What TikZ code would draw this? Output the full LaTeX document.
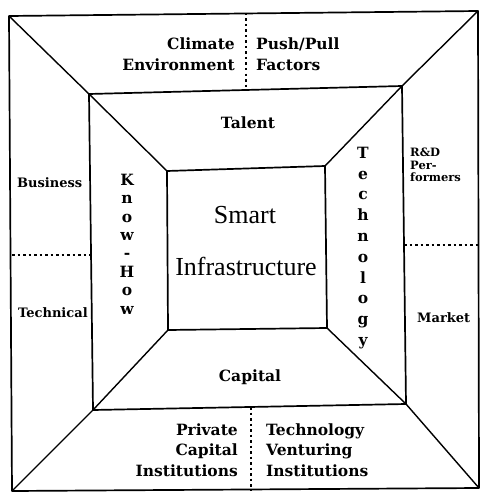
\documentclass[tikz,border=0pt]{standalone}
\usepackage{fontspec}
\newfontfamily\centerfont{Liberation Serif}
\newfontfamily\lblfont{DejaVu Serif}
\begin{document}
\begin{tikzpicture}[x=1pt,y=-1pt,
  frame/.style={line width=1.7pt, line join=round},
  diag/.style={line width=1.4pt},
  sep/.style={line width=1.5pt, dash pattern=on 2.5pt off 3pt},
  big/.style={font=\lblfont\bfseries\fontsize{15.5}{20.5}\selectfont, inner sep=0pt},
  side/.style={font=\lblfont\bfseries\fontsize{13}{13}\selectfont, inner sep=0pt},
  small/.style={font=\lblfont\bfseries\fontsize{11.5}{12.5}\selectfont, inner sep=0pt, align=left},
  center/.style={font=\centerfont\fontsize{26}{28}\selectfont, inner sep=0pt}]
\useasboundingbox (0,0) rectangle (480,495);
% outer
\coordinate (o1) at (9,16);
\coordinate (o2) at (478,11);
\coordinate (o3) at (479,488);
\coordinate (o4) at (12,491);
% middle
\coordinate (m1) at (89,94);
\coordinate (m2) at (402,86);
\coordinate (m3) at (406,404);
\coordinate (m4) at (93,410);
% inner
\coordinate (i1) at (167,171);
\coordinate (i2) at (325,166);
\coordinate (i3) at (327,328);
\coordinate (i4) at (168,330);
\draw[frame] (o1) -- (o2) -- (o3) -- (o4) -- cycle;
\draw[frame] (m1) -- (m2) -- (m3) -- (m4) -- cycle;
\draw[frame] (i1) -- (i2) -- (i3) -- (i4) -- cycle;
\draw[diag] (o1) -- (m1) -- (i1);
\draw[diag] (o2) -- (m2) -- (i2);
\draw[diag] (o3) -- (m3) -- (i3);
\draw[diag] (o4) -- (m4) -- (i4);
% separators
\coordinate (tdA) at (246,13);
\coordinate (tdB) at (246,90);
\coordinate (bdA) at (251,407);
\coordinate (bdB) at (251,490);
\coordinate (ldA) at (12,255);
\coordinate (ldB) at (91,255);
\coordinate (rdA) at (404,245);
\coordinate (rdB) at (478,245);
\draw[sep] (tdA) -- (tdB);
\draw[sep] (bdA) -- (bdB);
\draw[sep] (ldA) -- (ldB);
\draw[sep] (rdA) -- (rdB);
% labels
\node[big, anchor=east, align=right] (clim) at (235,54) {Climate\\Environment};
\node[big, anchor=west, align=left] (push) at (256,54) {Push/Pull\\Factors};
\node[big] (talent) at (248,123) {Talent};
\node[big] (capital) at (250,377) {Capital};
\node[big, anchor=east, align=right] (priv) at (238,450) {Private\\Capital\\Institutions};
\node[big, anchor=west, align=left] (tvi) at (266,450) {Technology\\Venturing\\Institutions};
\node[center] (smart) at (245,215) {Smart};
\node[center] (infra) at (246,266) {Infrastructure};
\node[side, anchor=west] (bus) at (17,183) {Business};
\node[side, anchor=west] (tech) at (18,313) {Technical};
\node[side, anchor=west] (mkt) at (417,318) {Market};
\node[small, anchor=west] (rd) at (410,165) {R\&D\\Per-\\formers};
\node[big, align=center, font=\lblfont\bfseries\fontsize{15.5}{18.4}\selectfont] (kh) at (127,244) {K\\n\\o\\w\\-\\H\\o\\w};
\node[big, align=center, font=\lblfont\bfseries\fontsize{15.5}{20.8}\selectfont] (techv) at (363,248) {T\\e\\c\\h\\n\\o\\l\\o\\g\\y};
\end{tikzpicture}
\end{document}
